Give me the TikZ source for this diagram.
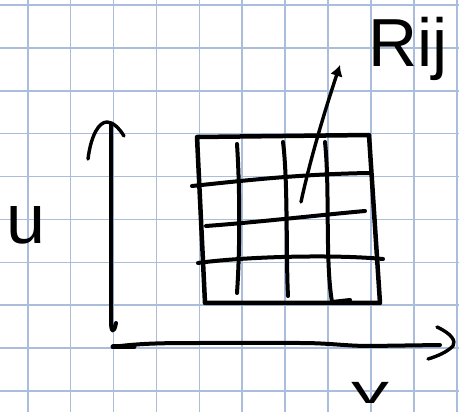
\documentclass[tikz,border=0pt]{standalone}
\usepackage{fontspec}
\setmainfont{Liberation Sans}
\usetikzlibrary{arrows.meta}
\definecolor{gridblue}{RGB}{170,190,220}
\tikzset{
  paper/.style={draw=gridblue, line width=1.6pt},
  ink/.style={draw=black, line width=4pt, line cap=round, line join=round},
  thinink/.style={draw=black, line width=3.4pt, line cap=round, line join=round},
  hand/.style={inner sep=0pt, outer sep=0pt, text=black}
}
\begin{document}
\begin{tikzpicture}[x=1pt, y=-1pt]
\useasboundingbox[fill=white] (0,0) rectangle (459,412);
% squared paper
\foreach \k in {0,...,10} {
  \draw[paper] ({27.7+42.9*\k},0) -- ({27.7+42.9*\k},412);
  \draw[paper] (0,{5+42.9*\k}) -- (459,{5+42.9*\k});
}
% vertical axis
\draw[ink] (111,124) -- (111,322) .. controls (111,332) and (114,334) .. (116,323);
\draw[thinink] (88,159) .. controls (91,135) and (99,122) .. (107,122) .. controls (113,122) and (119,128) .. (124,136);
% horizontal axis
\draw[ink] (113,347) .. controls (140,343) and (170,343) .. (200,343) -- (300,343) .. controls (330,343) and (345,346) .. (370,346) -- (440,345);
\draw[ink, line width=5pt] (113,347) -- (134,347);
\draw[thinink] (437,327) .. controls (452,334) and (456,341) .. (453,346) .. controls (447,352) and (438,356) .. (428,359);
% box
\draw[ink, line width=4.5pt] (197,137) -- (369,135) -- (380,303) -- (205,303) -- cycle;
% inner horizontal lines
\draw[ink] (192,186) .. controls (240,181) and (300,174) .. (370,173);
\draw[ink] (206,226) .. controls (260,222) and (320,215) .. (365,211);
\draw[ink] (198,263) .. controls (240,257) and (330,254) .. (383,259);
% inner vertical lines
\draw[ink] (237,144) .. controls (240,190) and (240,250) .. (237,293);
\draw[ink] (283,142) .. controls (288,180) and (286,260) .. (288,296);
\draw[ink] (325,142) .. controls (330,190) and (325,260) .. (332,302) -- (350,300);
% arrow from cell to label
\coordinate (cell) at (301,202);
\coordinate (tip) at (340,65);
\draw[thinink, -{Latex[length=11pt,width=13pt]}] (cell) .. controls (310,160) and (325,110) .. (tip);
% labels
\node[hand, anchor=base west] (rij) at (368,67) {\fontsize{68}{68}\selectfont Rij};
\node[hand] (ulab) at (26,225) {\fontsize{70}{70}\selectfont u};
\node[hand] (vlab) at (370,393) {\scalebox{1.9}[1]{\fontsize{40}{40}\selectfont v}};
\end{tikzpicture}
\end{document}
